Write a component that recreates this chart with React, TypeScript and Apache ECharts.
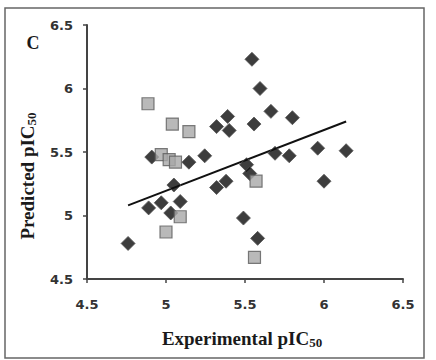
import React, { useEffect, useRef } from "react";
import * as echarts from "echarts";

// Training set compounds: [experimental pIC50, predicted pIC50]
const trainingSet: number[][] = [
  [5.544, 6.23], [5.595, 6.0], [5.664, 5.82], [5.8, 5.77], [5.557, 5.72],
  [5.39, 5.78], [5.32, 5.7], [5.4, 5.67], [4.91, 5.46], [5.145, 5.42],
  [5.245, 5.47], [5.69, 5.49], [5.78, 5.47], [5.96, 5.53], [6.14, 5.51],
  [5.51, 5.4], [5.53, 5.33], [6.0, 5.27], [5.05, 5.24], [5.32, 5.22],
  [5.38, 5.27], [4.89, 5.06], [4.97, 5.1], [5.09, 5.11], [5.03, 5.02],
  [4.76, 4.78], [5.49, 4.98], [5.58, 4.82],
];

// Test set compounds
const testSet: number[][] = [
  [4.886, 5.88], [5.04, 5.72], [5.145, 5.66], [4.97, 5.48], [5.02, 5.44],
  [5.06, 5.42], [5.57, 5.27], [5.09, 4.99], [5.0, 4.87], [5.56, 4.67],
];

// Linear fit endpoints
const trendLine: number[][] = [
  [4.76, 5.08],
  [6.14, 5.74],
];

const axisMin = 4.5;
const axisMax = 6.5;
const axisStep = 0.5;

const panelLetter = "C";
const xTitle = "Experimental pIC{s|50}";
const yTitle = "Predicted pIC{s|50}";

const serif = "'Liberation Serif', 'Times New Roman', serif";
const sans = "'DejaVu Sans', Verdana, sans-serif";

const titleRich = {
  s: {
    fontFamily: serif,
    fontWeight: "bold" as const,
    fontSize: 13,
    lineHeight: 13,
    verticalAlign: "bottom" as const,
    fill: "#1a1a1a",
  },
};

export default function App() {
  const ref = useRef<HTMLDivElement>(null);

  useEffect(() => {
    if (!ref.current) return;
    const chart = echarts.init(ref.current, undefined, { renderer: "svg" });

    const axisCommon = {
      type: "value" as const,
      min: axisMin,
      max: axisMax,
      interval: axisStep,
      splitLine: { show: false },
      axisLine: { show: true, lineStyle: { color: "#444", width: 2 } },
      axisTick: { show: true, length: 4, lineStyle: { color: "#444", width: 1.5 } },
      axisLabel: {
        color: "#333",
        fontFamily: sans,
        fontWeight: "bold" as const,
        fontSize: 13,
      },
    };

    chart.setOption({
      animation: false,
      backgroundColor: "#fff",
      grid: { left: 87, right: 33, top: 25, bottom: 81 },
      xAxis: {
        ...axisCommon,
        axisLabel: { ...axisCommon.axisLabel, margin: 19 },
      },
      yAxis: {
        ...axisCommon,
        axisLabel: { ...axisCommon.axisLabel, margin: 14 },
      },
      series: [
        {
          type: "line",
          data: trendLine,
          showSymbol: false,
          symbol: "none",
          lineStyle: { color: "#111", width: 2 },
          z: 1,
        },
        {
          type: "scatter",
          data: trainingSet,
          symbol: "diamond",
          symbolSize: 14,
          itemStyle: { color: "#0d0d0d", borderColor: "#555", borderWidth: 1 },
          z: 2,
        },
        {
          type: "scatter",
          data: testSet,
          symbol: "rect",
          symbolSize: 12,
          itemStyle: { color: "#a8a8a8", borderColor: "#5c5c5c", borderWidth: 1.2 },
          z: 3,
        },
      ],
      graphic: [
        {
          type: "rect",
          shape: { x: 5, y: 8, width: 419, height: 350 },
          style: { fill: "none", stroke: "#666", lineWidth: 1.5 },
          silent: true,
        },
        {
          type: "text",
          x: 33,
          y: 43,
          style: {
            text: panelLetter,
            font: `bold 18px ${serif}`,
            fill: "#1a1a1a",
            align: "center",
            verticalAlign: "middle",
          },
        },
        {
          type: "text",
          x: 242,
          y: 338,
          style: {
            text: xTitle,
            font: `bold 19px ${serif}`,
            fill: "#1a1a1a",
            align: "center",
            verticalAlign: "middle",
            lineHeight: 22,
            rich: titleRich,
          },
        },
        {
          type: "text",
          x: 27,
          y: 176,
          rotation: Math.PI / 2,
          style: {
            text: yTitle,
            font: `bold 19px ${serif}`,
            fill: "#1a1a1a",
            align: "center",
            verticalAlign: "middle",
            lineHeight: 22,
            rich: titleRich,
          },
        },
      ],
    });

    return () => chart.dispose();
  }, []);

  return (
    <div
      ref={ref}
      style={{ position: "absolute", left: 0, top: 0, width: 436, height: 360 }}
    />
  );
}
